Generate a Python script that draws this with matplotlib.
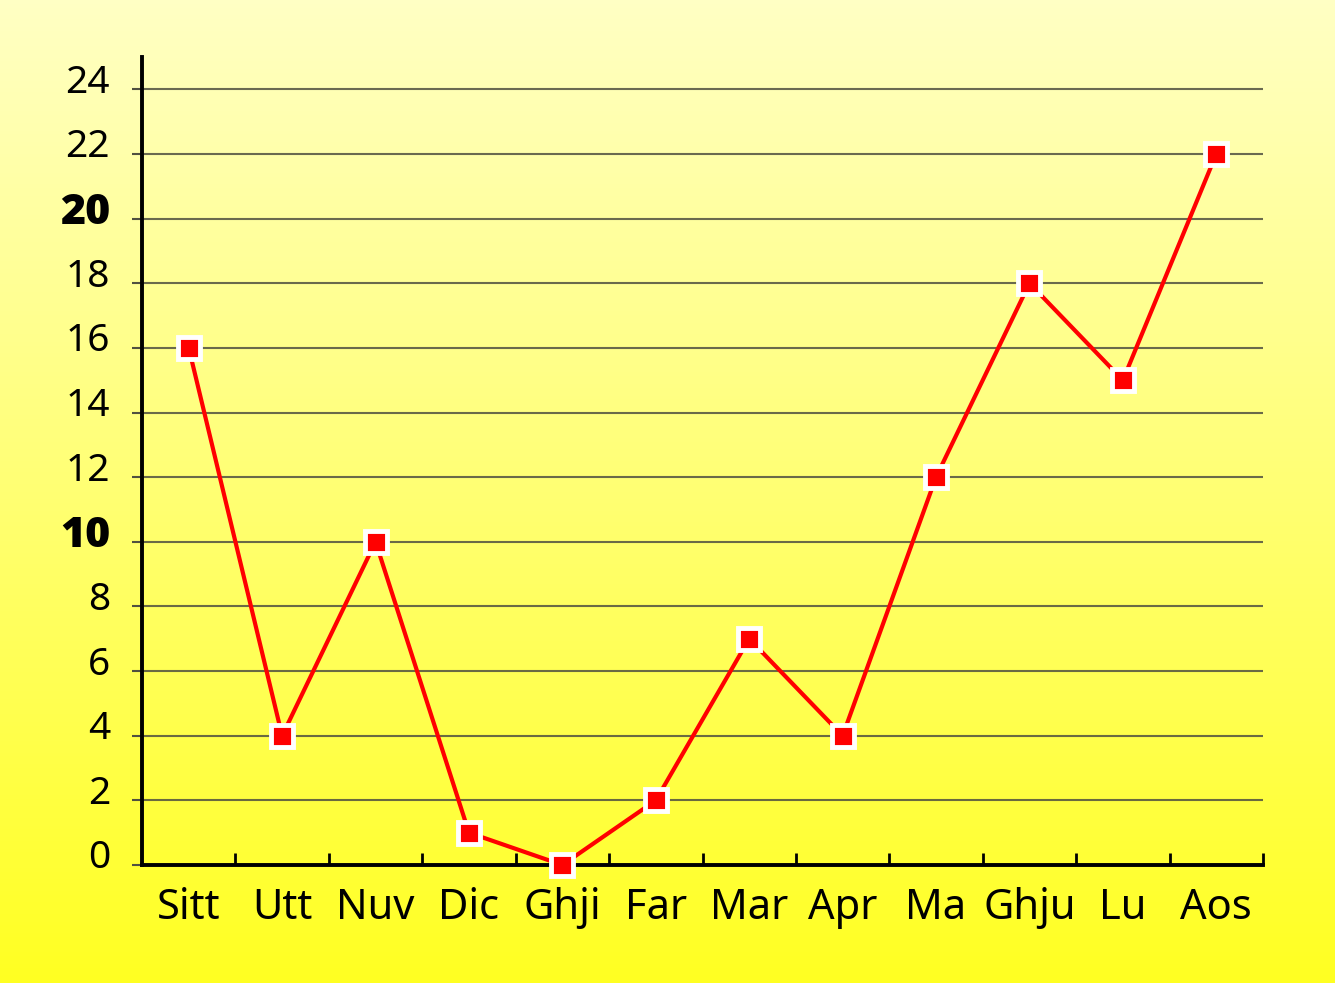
import numpy as np
import matplotlib.pyplot as plt
import matplotlib.transforms as mtransforms
from matplotlib.colors import LinearSegmentedColormap

months = ["Sitt", "Utt", "Nuv", "Dic", "Ghji", "Far", "Mar", "Apr", "Ma", "Ghju", "Lu", "Aos"]
values = [16, 4, 10, 1, 0, 2, 7, 4, 12, 18, 15, 22]
yticks = list(range(0, 25, 2))
bold_ticks = [10, 20]

plt.rcParams["font.family"] = ["Noto Sans", "DejaVu Sans"]

fig = plt.figure(figsize=(13.35, 9.83), dpi=100)

# yellow gradient background
bg = fig.add_axes([0, 0, 1, 1], zorder=-10)
grad = np.linspace(0, 1, 256).reshape(-1, 1)
cmap = LinearSegmentedColormap.from_list("yel", ["#ffff22", "#ffffc4"])
bg.imshow(grad, aspect="auto", cmap=cmap, origin="lower", extent=[0, 1, 0, 1])
bg.axis("off")

ax = fig.add_axes([142 / 1335, 1 - 865 / 983, (1263 - 142) / 1335, (865 - 57) / 983])
ax.set_facecolor("none")

x = np.arange(len(months))
ax.plot(x, values, color="#ff0000", lw=3, marker="s", ms=15.5,
        mfc="#ff0000", mec="white", mew=3.5, zorder=5, clip_on=False)

ax.set_xlim(-0.5, len(months) - 0.5)
ax.set_ylim(0, 25)

for y in yticks[1:]:
    ax.axhline(y, color="#505040", lw=1.5, alpha=0.85, zorder=1)

ax.set_yticks(yticks)
ax.set_yticklabels([str(v) for v in yticks], fontsize=28)
ax.tick_params(axis="y", direction="out", length=7, width=1.5, color="#505040", pad=16)

ax.set_xticks(x)
ax.set_xticklabels(months, fontsize=30)
ax.tick_params(axis="x", length=0, pad=16)
ax.set_xticks(np.arange(len(months)) + 0.5, minor=True)
ax.tick_params(axis="x", which="minor", direction="in", length=9, width=2, color="black")

# 10 and 20 are bold in the original; shift all y labels up a bit
shift = mtransforms.ScaledTranslation(0, 0.11, fig.dpi_scale_trans)
for lab, v in zip(ax.get_yticklabels(), yticks):
    if v in bold_ticks:
        lab.set_fontfamily(["Open Sans", "DejaVu Sans"])
        lab.set_fontweight("heavy")
        lab.set_fontsize(31)
    lab.set_transform(lab.get_transform() + shift)

for side in ["top", "right"]:
    ax.spines[side].set_visible(False)
for side in ["left", "bottom"]:
    ax.spines[side].set_linewidth(2.8)
    ax.spines[side].set_color("black")

fig.savefig("out.png", dpi=100)
